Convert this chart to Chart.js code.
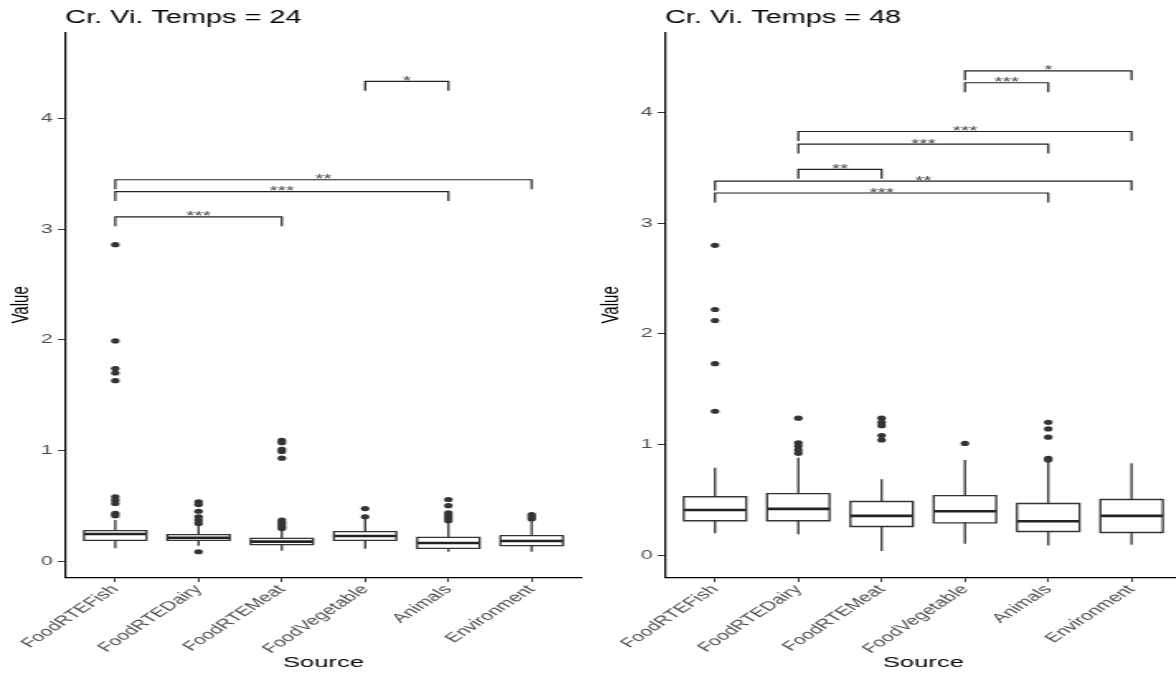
<!DOCTYPE html>
<html>
<head>
<meta charset="utf-8">
<script src="https://cdn.jsdelivr.net/npm/chart.js@4.4.1/dist/chart.umd.min.js"></script>
<style>
  html, body { margin: 0; padding: 0; background: #fff; }
  #wrap { position: relative; width: 1176px; height: 675px; overflow: hidden; background: #fff; }
  canvas { position: absolute; top: 0; transform-origin: 0 0; }
</style>
</head>
<body>
<div id="wrap">
  <canvas id="chart24" width="358" height="675" style="left:0px"></canvas>
  <canvas id="chart48" width="364" height="675" style="left:590px"></canvas>
</div>
<script>
// Categories
const sources = ['FoodRTEFish', 'FoodRTEDairy', 'FoodRTEMeat', 'FoodVegetable', 'Animals', 'Environment'];
const yTicks = [0, 1, 2, 3, 4];

// Temps = 24 : box statistics
const q1_24     = [0.187, 0.187, 0.148, 0.187, 0.115, 0.139];
const median_24 = [0.244, 0.211, 0.175, 0.226, 0.163, 0.181];
const q3_24     = [0.274, 0.238, 0.205, 0.265, 0.214, 0.229];
const low_24    = [0.115, 0.139, 0.093, 0.112, 0.084, 0.084];
const high_24   = [0.371, 0.317, 0.280, 0.384, 0.354, 0.360];
const outliers_24 = [
    [2.86, 1.99, 1.74, 1.70, 1.63, 0.58, 0.55, 0.52, 0.43, 0.41],
    [0.535, 0.51, 0.45, 0.40, 0.37, 0.34, 0.084],
    [1.09, 1.07, 1.01, 0.99, 0.93, 0.37, 0.35, 0.33, 0.31, 0.295],
    [0.474, 0.40],
    [0.556, 0.50, 0.435, 0.41, 0.385, 0.365],
    [0.42, 0.40, 0.38]
];
// [from, to, height, label]
const brackets_24 = [
    ['FoodRTEFish', 'FoodRTEMeat', 3.111, '***'],
    ['FoodRTEFish', 'Animals', 3.339, '***'],
    ['FoodRTEFish', 'Environment', 3.447, '**'],
    ['FoodVegetable', 'Animals', 4.336, '*']
];

// Temps = 48 : box statistics
const q1_48     = [0.310, 0.310, 0.258, 0.291, 0.213, 0.204];
const median_48 = [0.407, 0.417, 0.354, 0.396, 0.306, 0.354];
const q3_48     = [0.527, 0.556, 0.484, 0.538, 0.466, 0.502];
const low_48    = [0.196, 0.189, 0.036, 0.102, 0.087, 0.093];
const high_48   = [0.789, 0.880, 0.685, 0.859, 0.850, 0.829];
const outliers_48 = [
    [2.80, 2.22, 2.12, 1.73, 1.30],
    [1.237, 1.015, 0.985, 0.95, 0.92],
    [1.237, 1.20, 1.17, 1.08, 1.04],
    [1.009],
    [1.20, 1.14, 1.066, 0.875, 0.86],
    []
];
const brackets_48 = [
    ['FoodRTEFish', 'Animals', 3.273, '***'],
    ['FoodRTEFish', 'Environment', 3.381, '**'],
    ['FoodRTEDairy', 'FoodRTEMeat', 3.486, '**'],
    ['FoodRTEDairy', 'Animals', 3.715, '***'],
    ['FoodRTEDairy', 'Environment', 3.829, '***'],
    ['FoodVegetable', 'Animals', 4.270, '***'],
    ['FoodVegetable', 'Environment', 4.378, '*']
];

// Mise en page (l'image de reference est etiree horizontalement)
const STRETCH = 1.65;
const BOX_HALF = 0.375;
const TIP = 0.085;
const FONT = '"Liberation Sans", Arial, sans-serif';

function gap(x) {
    return { x: x, y: null };
}

function buildDatasets(s) {
    const boxPts = [], medPts = [], whiskPts = [], outPts = [], brPts = [];
    sources.forEach((name, i) => {
        const x = i + 1;
        const l = x - BOX_HALF, r = x + BOX_HALF;
        boxPts.push({ x: l, y: s.q1[i] }, { x: r, y: s.q1[i] }, { x: r, y: s.q3[i] },
                    { x: l, y: s.q3[i] }, { x: l, y: s.q1[i] }, gap(x));
        medPts.push({ x: l, y: s.median[i] }, { x: r, y: s.median[i] }, gap(x));
        whiskPts.push({ x: x, y: s.q3[i] }, { x: x, y: s.high[i] }, gap(x),
                      { x: x, y: s.q1[i] }, { x: x, y: s.low[i] }, gap(x));
        s.outliers[i].forEach(v => outPts.push({ x: x, y: v }));
    });
    s.brackets.forEach(([from, to, h]) => {
        const a = sources.indexOf(from) + 1, b = sources.indexOf(to) + 1;
        brPts.push({ x: a, y: h - TIP }, { x: a, y: h }, { x: b, y: h }, { x: b, y: h - TIP }, gap(a));
    });
    const line = { showLine: true, pointRadius: 0, fill: false, tension: 0, spanGaps: false };
    return [
        { ...line, label: 'whiskers', data: whiskPts, borderColor: '#333', borderWidth: 1.3 },
        { ...line, label: 'boxes', data: boxPts, borderColor: '#333', borderWidth: 1.3,
          borderJoinStyle: 'miter', borderCapStyle: 'square' },
        { ...line, label: 'medians', data: medPts, borderColor: '#222', borderWidth: 2.6 },
        { label: 'outliers', data: outPts, showLine: false, pointRadius: 2.6,
          pointBackgroundColor: '#333', pointBorderWidth: 0 },
        { ...line, label: 'brackets', data: brPts, borderColor: '#222', borderWidth: 1.2, clip: false }
    ];
}

// Titre du panneau et etoiles de significativite
const panelText = {
    id: 'panelText',
    afterDatasetsDraw(chart, args, opts) {
        const { ctx, chartArea, scales: { x, y } } = chart;
        ctx.save();
        ctx.fillStyle = '#000';
        ctx.font = '17.5px ' + FONT;
        ctx.textAlign = 'left';
        ctx.textBaseline = 'alphabetic';
        ctx.fillText(opts.title, chartArea.left, 23);
        ctx.fillStyle = '#444';
        ctx.font = '13px ' + FONT;
        ctx.textAlign = 'center';
        opts.brackets.forEach(([from, to, h, label]) => {
            const a = sources.indexOf(from) + 1, b = sources.indexOf(to) + 1;
            ctx.fillText(label, x.getPixelForValue((a + b) / 2), y.getPixelForValue(h) + 3.5);
        });
        ctx.restore();
    }
};

function makeChart(id, title, s, yMin, yMax, axisLeft) {
    const canvas = document.getElementById(id);
    canvas.style.transform = 'scaleX(' + STRETCH + ')';
    const axisW = axisLeft / STRETCH;
    return new Chart(canvas, {
        type: 'scatter',
        data: { datasets: buildDatasets(s) },
        options: {
            responsive: false,
            animation: false,
            events: [],
            layout: { padding: { left: 0, right: 5.5, top: 32.3, bottom: 0 } },
            plugins: {
                legend: { display: false },
                tooltip: { enabled: false },
                title: { display: false },
                panelText: { title: title, brackets: s.brackets }
            },
            scales: {
                x: {
                    type: 'linear',
                    min: 0.4,
                    max: sources.length + 0.6,
                    afterBuildTicks: axis => { axis.ticks = sources.map((c, i) => ({ value: i + 1 })); },
                    afterFit: axis => { axis.height = 675 - 577.5; },
                    ticks: {
                        autoSkip: false,
                        minRotation: 47,
                        maxRotation: 47,
                        padding: 0,
                        color: '#4d4d4d',
                        font: { family: FONT, size: 13 },
                        callback: (v, i) => sources[i]
                    },
                    grid: { drawOnChartArea: false, drawTicks: true, tickLength: 4.5, color: '#333', lineWidth: 1 },
                    border: { display: true, color: '#000', width: 1.3 },
                    title: { display: true, text: 'Source', color: '#000',
                             font: { family: FONT, size: 15.5 }, padding: { top: 0, bottom: 3 } }
                },
                y: {
                    type: 'linear',
                    min: yMin,
                    max: yMax,
                    afterBuildTicks: axis => { axis.ticks = yTicks.map(v => ({ value: v })); },
                    afterFit: axis => { axis.width = axisW; },
                    ticks: {
                        padding: 3,
                        color: '#4d4d4d',
                        font: { family: FONT, size: 13 }
                    },
                    grid: { drawOnChartArea: false, drawTicks: true, tickLength: 4.5, color: '#333', lineWidth: 1 },
                    border: { display: true, color: '#000', width: 1.2 },
                    title: { display: true, text: 'Value', color: '#000',
                             font: { family: FONT, size: 15 }, padding: { top: 4, bottom: 0 } }
                }
            }
        },
        plugins: [panelText]
    });
}

const chart24 = makeChart('chart24', 'Cr. Vi. Temps = 24', {
    q1: q1_24, median: median_24, q3: q3_24, low: low_24, high: high_24,
    outliers: outliers_24, brackets: brackets_24
}, -0.149, 4.78, 65.3);

const chart48 = makeChart('chart48', 'Cr. Vi. Temps = 48', {
    q1: q1_48, median: median_48, q3: q3_48, low: low_48, high: high_48,
    outliers: outliers_48, brackets: brackets_48
}, -0.203, 4.726, 75);
</script>
</body>
</html>
